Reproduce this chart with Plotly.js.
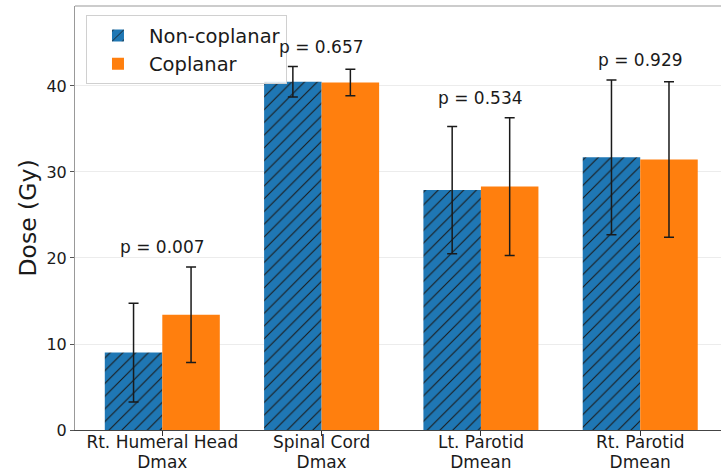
<!DOCTYPE html>
<html>
<head>
<meta charset="utf-8">
<script src="https://cdn.plot.ly/plotly-3.0.1.min.js"></script>
<style>
  html, body { margin: 0; padding: 0; background: #fff; }
  #chart { width: 721px; height: 473px; }
</style>
</head>
<body>
<div id="chart"></div>
<script>
const categories = ["Rt. Humeral Head<br>Dmax", "Spinal Cord<br>Dmax", "Lt. Parotid<br>Dmean", "Rt. Parotid<br>Dmean"];
const nonCoplanarMean = [9.0, 40.5, 27.9, 31.7];
const nonCoplanarSD   = [5.75, 1.77, 7.4, 9.0];
const coplanarMean    = [13.4, 40.4, 28.3, 31.45];
const coplanarSD      = [5.55, 1.55, 8.0, 9.03];
const pValues = ["p = 0.007", "p = 0.657", "p = 0.534", "p = 0.929"];
const yTicks = [0, 10, 20, 30, 40];

const FONT = "DejaVu Sans, sans-serif";
const idx = categories.map((_, i) => i);
const line1 = categories.map(c => c.split("<br>")[0]);
const line2 = categories.map(c => c.split("<br>")[1]);
const X_RANGE = [-0.548, 3.507];

const traceNon = {
  type: "bar", name: "Non-coplanar", x: idx, y: nonCoplanarMean, legendgroup: "a",
  marker: {
    color: "#1f77b4",
    line: { width: 0 },
    pattern: { shape: "/", fgcolor: "#1a1a1a", bgcolor: "#1f77b4", size: 9, solidity: 0.12 }
  },
  error_y: { type: "data", array: nonCoplanarSD, visible: true, color: "#1a1a1a", thickness: 1.5, width: 5 }
};
const traceCop = {
  type: "bar", name: "Coplanar", x: idx, y: coplanarMean, legendgroup: "b",
  marker: { color: "#ff7f0e", line: { width: 0 } },
  error_y: { type: "data", array: coplanarSD, visible: true, color: "#1a1a1a", thickness: 1.5, width: 5 }
};
// carrier for the second line of the category labels (draws nothing)
const traceLabels2 = {
  type: "scatter", mode: "none", x: idx, y: idx.map(() => 0), xaxis: "x2", yaxis: "y",
  showlegend: false, hoverinfo: "skip"
};

const annotations = idx.map(i => ({
  x: i, y: Math.max(nonCoplanarMean[i] + nonCoplanarSD[i], coplanarMean[i] + coplanarSD[i]) + 2.3,
  xref: "x", yref: "y", text: pValues[i], showarrow: false,
  xanchor: "center", yanchor: "middle",
  font: { family: FONT, size: 17, color: "#1a1a1a" }
}));

const tickFont = { family: FONT, size: 17, color: "#1a1a1a" };

const layout = {
  width: 721, height: 473,
  margin: { l: 75, r: 0, t: 6, b: 43, pad: 0 },
  paper_bgcolor: "#fff", plot_bgcolor: "#fff",
  barmode: "group", bargap: 0.278, bargroupgap: 0,
  showlegend: true,
  legend: {
    x: 0.017, y: 0.978, xanchor: "left", yanchor: "top",
    bgcolor: "rgba(255,255,255,0.85)", bordercolor: "#d0d0d0", borderwidth: 1,
    font: { family: FONT, size: 19.5, color: "#1a1a1a" },
    itemwidth: 52, tracegroupgap: 2, traceorder: "normal"
  },
  xaxis: {
    range: X_RANGE,
    tickmode: "array", tickvals: idx, ticktext: line1,
    ticks: "outside", ticklen: 5, tickcolor: "#333", tickwidth: 1,
    ticklabelstandoff: -8,
    showline: true, linecolor: "#444", linewidth: 1,
    showgrid: false, zeroline: false,
    tickfont: tickFont
  },
  xaxis2: {
    range: X_RANGE, overlaying: "x", anchor: "y", side: "bottom",
    tickmode: "array", tickvals: idx, ticktext: line2,
    ticks: "outside", ticklen: 5, tickcolor: "rgba(0,0,0,0)", tickwidth: 1,
    ticklabelstandoff: 12,
    showline: false, showgrid: false, zeroline: false,
    tickfont: tickFont
  },
  yaxis: {
    range: [0, 49.3],
    tickmode: "array", tickvals: yTicks,
    ticks: "outside", ticklen: 4, tickcolor: "#555", tickwidth: 1,
    showline: true, linecolor: "#999", linewidth: 1,
    showgrid: true, gridcolor: "#ececec", gridwidth: 1, zeroline: false,
    tickfont: { family: FONT, size: 16, color: "#1a1a1a" },
    title: { text: "Dose (Gy)", font: { family: FONT, size: 23.5, color: "#1a1a1a" }, standoff: 3 }
  },
  shapes: [
    { type: "line", xref: "paper", yref: "paper", x0: 0, x1: 1, y0: 1, y1: 1, line: { color: "#999", width: 1 } }
  ],
  annotations: annotations
};

Plotly.newPlot("chart", [traceNon, traceCop, traceLabels2], layout, { staticPlot: true, displayModeBar: false });
</script>
</body>
</html>
